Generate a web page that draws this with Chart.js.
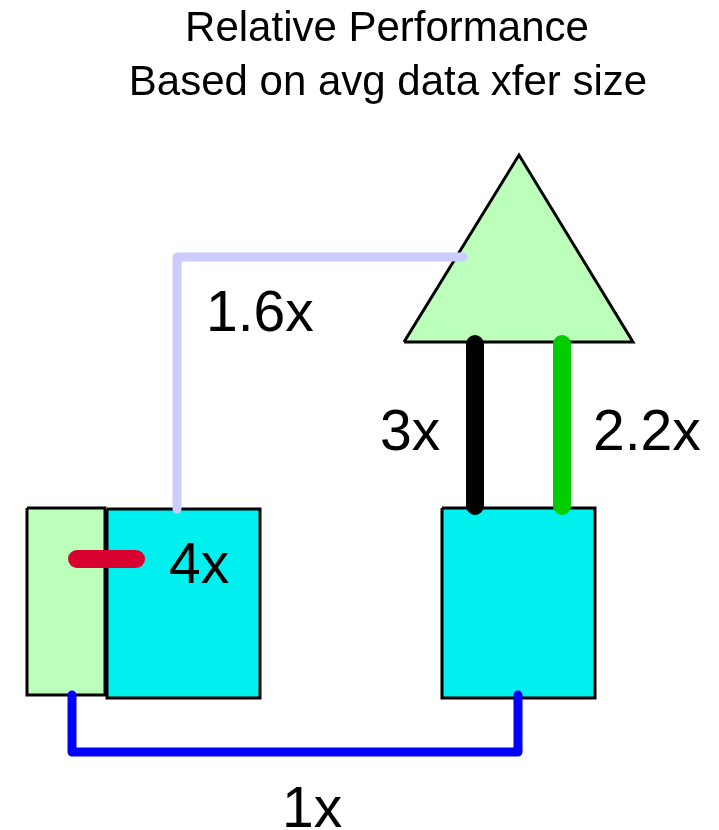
<!DOCTYPE html>
<html>
<head>
<meta charset="utf-8">
<title>Relative Performance</title>
<script src="https://cdn.jsdelivr.net/npm/chart.js@4/dist/chart.umd.min.js"></script>
<style>
html,body{margin:0;padding:0;background:#fff;}
canvas{display:block;}
</style>
</head>
<body>
<canvas id="diagram" width="719" height="830"></canvas>
<script>
/* -----------------------------
   DATA (diagram units, y grows down)
------------------------------ */
const titleLines = ["Relative Performance","Based on avg data xfer size"];
const titleAt = [[387,41],[388,95]];

const leftGreenBox = [[27,508],[105,508],[105,695],[27,695]];
const leftCyanBox = [[107,509],[260,509],[260,698],[107,698]];
const rightCyanBox = [[442,508],[595,508],[595,698],[442,698]];
const triangle = [[404,342],[519,155],[633,342]];

const linkLavender = [[177,509],[177,257],[463,257]];
const linkBlue = [[72,695],[72,752],[518,752],[518,695]];
const linkRed = [[77,559],[136,559]];
const linkBlack = [[475,344],[475,506]];
const linkGreen = [[562,344],[562,506]];

const ratioLabels = ["1.6x","3x","2.2x","4x","1x"];
const ratioAt = [[206,331],[380,450],[593,450],[169,583],[282,827]];

/* -----------------------------
   HELPERS
------------------------------ */
const pts = arr => arr.map(p=>({x:p[0],y:p[1]}));

function shapeFill(shape, color, order){
// top outline filled down to the bottom edge
let bottom = Math.max(...shape.map(p=>p[1]));
let top = shape.length===4 ? shape.slice(0,2) : shape;
return {
data: pts(top),
borderWidth:0,
backgroundColor:color,
fill:{value:bottom},
order
};
}

function shapeBorder(shape, order){
return {
data: pts(shape.concat([shape[0]])),
borderColor:"#000",
borderWidth:3,
borderJoinStyle:"miter",
fill:false,
order
};
}

function link(path, color, width, order){
return {
data: pts(path),
borderColor:color,
borderWidth:width,
borderCapStyle:"round",
borderJoinStyle:"round",
fill:false,
order
};
}

/* -----------------------------
   TEXT PLUGIN
------------------------------ */
const textPlugin = {
id:"diagramText",
afterDraw(chart){
const ctx = chart.ctx;
const xs = chart.scales.x, ys = chart.scales.y;
ctx.save();
ctx.fillStyle = "#000";
ctx.textBaseline = "alphabetic";

ctx.font = '42px "Liberation Sans", Arial, sans-serif';
ctx.textAlign = "center";
titleLines.forEach((t,i)=>{
ctx.fillText(t, xs.getPixelForValue(titleAt[i][0]), ys.getPixelForValue(titleAt[i][1]));
});

ctx.font = '57px "Liberation Sans", Arial, sans-serif';
ctx.textAlign = "left";
ratioLabels.forEach((t,i)=>{
ctx.fillText(t, xs.getPixelForValue(ratioAt[i][0]), ys.getPixelForValue(ratioAt[i][1]));
});
ctx.restore();
}
};

/* -----------------------------
   CHART
------------------------------ */
const datasets = [
// links on top (lower order drawn later)
link(linkRed,"#d8002e",18,1),
link(linkBlack,"#000000",18,1),
link(linkGreen,"#00cc00",18,1),
link(linkLavender,"#ccccff",9,2),
link(linkBlue,"#0000ff",9,2),
// shapes
shapeBorder(triangle,10),
shapeFill(triangle,"#bbffbb",11),
shapeBorder(rightCyanBox,10),
shapeFill(rightCyanBox,"#00f0f0",11),
shapeBorder(leftCyanBox,12),
shapeFill(leftCyanBox,"#00f0f0",13),
shapeBorder(leftGreenBox,14),
shapeFill(leftGreenBox,"#bbffbb",15)
];

new Chart(document.getElementById("diagram"),{
type:"line",
data:{datasets},
options:{
responsive:false,
animation:false,
devicePixelRatio:1,
layout:{padding:0},
elements:{
point:{radius:0,hoverRadius:0},
line:{tension:0}
},
scales:{
x:{type:"linear",min:0,max:719,display:false},
y:{type:"linear",min:0,max:830,reverse:true,display:false}
},
plugins:{
legend:{display:false},
tooltip:{enabled:false},
title:{display:false}
}
},
plugins:[textPlugin]
});
</script>
</body>
</html>
